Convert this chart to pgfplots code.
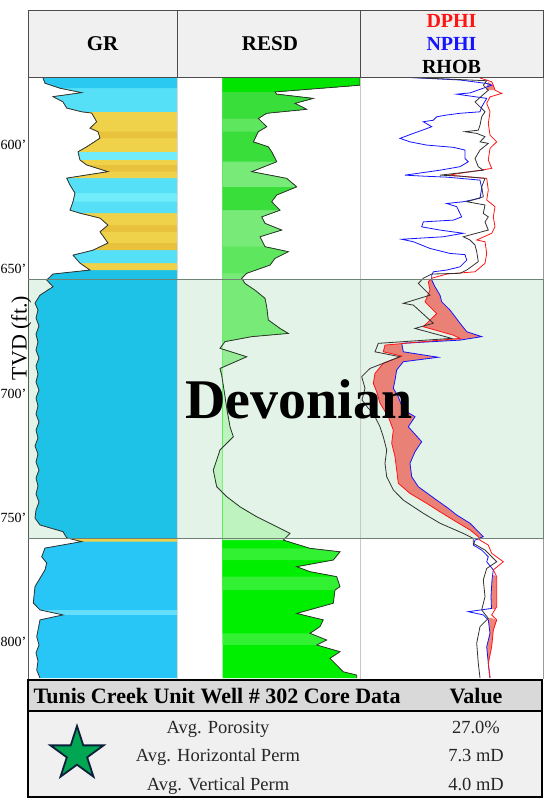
\documentclass[border=0pt]{standalone}
\usepackage{fontspec}
\setmainfont{Liberation Serif}
\usepackage{pgfplots}
\usepackage{pgfplotstable}
\pgfplotsset{compat=1.18}
\usetikzlibrary{shapes.geometric}
\newcommand{\fs}[1]{\fontsize{#1}{#1}\selectfont}
\definecolor{hdrgray}{RGB}{240,240,240}
\definecolor{devbg}{RGB}{227,243,232}
\definecolor{devborder}{RGB}{110,130,118}
\definecolor{tblhdr}{RGB}{217,217,217}
\definecolor{tblbody}{RGB}{240,240,240}
\definecolor{stargreen}{RGB}{0,166,81}
\definecolor{starnavy}{RGB}{11,31,58}
\definecolor{cA}{RGB}{41,201,242}
\definecolor{cB}{RGB}{85,224,248}
\definecolor{cL}{RGB}{112,236,251}
\definecolor{yA}{RGB}{240,210,74}
\definecolor{yB}{RGB}{233,194,60}
\definecolor{cD}{RGB}{31,194,231}
\definecolor{cE}{RGB}{39,198,246}
\definecolor{cE2}{RGB}{100,222,250}
\definecolor{gV}{RGB}{0,228,0}
\definecolor{g1}{RGB}{58,222,58}
\definecolor{g2}{RGB}{94,230,94}
\definecolor{g3}{RGB}{120,234,120}
\definecolor{g4}{RGB}{150,236,150}
\definecolor{g5}{RGB}{190,242,190}
\definecolor{gW}{RGB}{0,238,0}
\definecolor{gW2}{RGB}{50,240,50}
\definecolor{porfill}{RGB}{236,110,100}
\definecolor{nphic}{RGB}{20,20,255}
\definecolor{dphic}{RGB}{255,20,20}
\definecolor{curvec}{RGB}{50,50,50}

% area between GR curve and right edge, from the top down to depth #2
\newcommand{\grpoly}[2]{\addplot[fill=#1, draw=none, restrict y to domain=570:#2001] table[x=g,y=d]{\grdata} -- (axis cs:149,#2) -- (axis cs:149,572.6) -- cycle;}
% area between RESD curve and its base line, from the top down to depth #2
\newcommand{\rpoly}[2]{\addplot[fill=#1, draw=none, restrict y to domain=570:#2001] table[x=r,y=d]{\resdata} -- (axis cs:45.7,#2) -- (axis cs:45.7,572.6) -- cycle;}

\pgfplotstableread{
d g
572.6 14.7
575.1 17
577.1 32
578.9 53.7
580.5 25
582.6 35
585.1 38.7
586.6 53.7
587.1 63.7
590.6 68.7
593.2 62
594.6 70
597.2 72
600.7 58.7
602.7 50
606.0 52
608.0 58.7
610.7 80
613.3 38.7
616.1 42
619.3 47
622.8 45
626.2 42
627.4 52
629.4 72
632.2 80
634.9 72
639.4 80
642.3 65
644.3 45
647.5 52
650.3 62
651.9 25
654.3 18.7
657.0 25
660.4 12
663.6 7
666.4 10
669.6 8
672.8 11
676.1 8
679.3 10
682.5 8
685.7 11
688.9 8
692.2 10
695.4 8
698.6 11
701.8 8
705.0 10
708.2 8
711.5 11
714.7 8
717.9 10
721.1 7
724.3 10
727.6 8
730.8 11
734.0 8
737.2 10
740.4 8
743.7 11
746.9 8
750.1 7
752.9 12
755.6 35
758.1 38.7
759.6 53.7
762.2 17
765.7 13.7
768.2 18.7
771.0 17
777.7 7
784.3 5.3
787.1 12
789.1 35
791.1 12
797.9 8.7
801.2 11
804.4 8
807.6 10
811.3 8.7
814.5 12
}\grdata

\pgfplotstableread{
d r
572.6 183
575.9 183
578.6 98
579.5 99.7
581.2 136.3
583.2 118
585.6 129.7
587.2 89.7
589.3 81.3
592.6 89.7
594.6 81.3
598.7 76.3
600.7 91.3
602.7 94.7
606.7 99.7
610.7 74.7
613.4 109.7
616.8 119.7
620.1 99.7
622.8 94.7
626.2 103
628.9 84.7
631.5 88
634.2 104.7
636.9 83
640.9 88
642.9 111.3
645.6 98
648.3 93
651.6 69.7
653.6 64.7
655.7 68
658.4 78
661.7 88
665.1 89.7
670.4 91.3
673.8 103
675.8 111.3
677.1 74.7
679.1 48
681.8 43
685.2 69.7
689.9 43
692.6 44.7
698.6 47
706.6 50
713.4 53
717.4 56.3
722.7 43
726.8 39.7
730.8 36.3
737.5 39.7
741.5 49.7
745.6 63
749.6 79.7
753.6 99.7
756.3 113
759.0 106.3
762.3 133
763.7 163
767.0 156.3
769.7 119.7
771.7 133
773.7 159.7
777.7 163
779.1 158
784.4 156.3
788.5 119.7
791.1 146.3
793.8 143
796.5 133
799.2 149.7
801.2 139.7
803.9 163
806.6 153
809.3 159.7
812.0 166.3
813.3 179.7
814.5 179.7
}\resdata

\pgfplotstableread{
d n
572.6 40
573.8 100
575.2 126.7
575.9 131.7
579.0 110
579.5 96.7
581.2 126.7
584.6 121.7
586.6 120
587.2 100
587.9 86.7
588.6 76.7
590.0 73.3
590.6 63.3
592.6 71.7
594.6 58.3
595.3 53.3
597.3 40
598.7 50
600.0 66.7
600.9 93.3
602.0 105
605.4 105
606.7 108.3
608.7 100
610.1 80
612.1 45
612.5 63.3
612.9 86.7
614.1 120
617.4 121.7
621.4 120
622.8 103.3
623.5 86.7
624.8 96.7
628.9 101.7
630.2 93.3
630.9 63.3
632.9 61.7
634.2 80
635.5 103.3
636.9 83.3
637.9 41.7
638.9 53.3
641.6 70
643.6 90
644.1 105
646.3 106.7
649.0 100
650.3 86.7
651.0 73.3
652.3 71.7
654.3 71.7
657.0 75
660.4 80
663.1 81.7
666.4 90
671.7 100
675.1 106.7
677.1 121.7
678.5 100
679.8 41.7
683.2 43.3
685.4 78.3
687.2 43.3
690.5 36.7
694.6 35
697.9 33.3
701.3 38.3
706.6 43.3
709.3 55
713.4 48.3
719.4 61.7
723.4 55
728.1 50
733.5 51.7
737.5 58.3
742.9 76.7
746.2 88.3
748.9 96.7
752.2 110
755.6 118.3
757.6 123.3
759.0 115
761.0 113.3
763.0 121.7
765.7 128.3
767.7 126.7
771.0 133.3
775.0 132
781.8 131
786.5 131.5
787.8 108.3
789.1 123.3
791.1 128.3
796.5 130
801.9 126.7
808.6 128.3
814.5 130
}\nphidata

\pgfplotstableread{
d p
573.0 120
574.5 131.7
575.9 133.3
577.9 135
579.2 141.7
580.6 130
583.2 126.7
586.6 130
591.3 128.3
596.0 130
598.7 136.7
601.3 130
606.0 128.3
609.4 131.7
612.1 88.3
613.4 126.7
618.1 128.3
622.1 126.7
624.8 135
628.9 133.3
632.9 135
635.5 131.7
638.2 116.7
638.9 125
643.6 126.7
647.6 125
651.0 115
651.9 86.7
653.6 71.7
655.1 68.3
658.4 70
663.1 65
667.8 76.7
673.1 63.3
676.5 93.3
677.8 100
680.5 25
683.2 23.3
684.9 41.7
687.8 23.3
691.9 15
695.9 13.3
699.3 16.7
703.9 20
709.3 28.3
714.7 33.3
720.0 31.7
725.4 35
730.8 36.7
736.1 38.3
740.2 50
744.2 66.7
747.6 80
750.9 93.3
754.9 110
757.6 118.3
759.0 120
761.0 128.3
764.3 131.7
767.7 143.3
771.0 133.3
773.7 136.7
785.8 136.7
789.1 131.7
791.1 136.7
795.2 133.3
801.9 131.7
808.6 128.3
814.5 130
}\dphidata

\pgfplotstableread{
d b
572.6 40
574.1 126.7
575.9 123.3
577.9 128.3
582.6 115
584.6 120
586.6 125
588.6 121.7
592.0 120
594.0 118.3
594.6 105
595.3 116.7
596.6 125
598.7 120
599.3 128.3
602.0 120
605.4 115
608.7 118.3
610.1 123.3
612.1 80
612.5 100
613.4 125
616.8 121.7
620.8 123.3
622.8 106.7
624.1 125
627.5 123.3
628.9 128.3
630.9 125
634.2 128.3
636.9 103.3
638.2 110
640.2 115
642.9 116.7
646.9 118.3
650.3 106.7
651.6 100
651.9 71.7
653.6 63.3
655.7 58.3
660.4 70
663.7 43.3
664.4 53.3
671.7 73.3
673.8 55
677.8 91.7
679.8 18.3
683.2 15
685.2 40
689.9 10
693.2 1.7
697.9 5
702.6 2
705.8 8
707.9 13.3
713.4 20
717.4 23.3
722.7 26.7
728.1 25
733.5 26.7
738.8 33.3
742.9 43.3
748.2 63.3
752.2 80
756.3 103.3
758.3 113.3
760.3 113.3
763.0 125
767.7 136.7
770.4 126.7
775.0 123.3
781.8 125
787.1 121.7
790.5 128.3
793.8 120
800.5 116.7
808.6 118.3
814.5 120
}\rhobdata

% DPHI-NPHI crossover area (DPHI going down, then NPHI coming back up)
\pgfplotstableread{
d x
653.6 71.7
655.1 68.3
658.4 70
663.1 65
667.8 76.7
673.1 63.3
676.5 93.3
677.8 100
680.5 25
683.2 23.3
684.9 41.7
687.8 23.3
691.9 15
695.9 13.3
699.3 16.7
703.9 20
709.3 28.3
714.7 33.3
720.0 31.7
725.4 35
730.8 36.7
736.1 38.3
740.2 50
744.2 66.7
747.6 80
750.9 93.3
754.9 110
757.6 118.3
759.0 120
759.0 115
757.6 123.3
755.6 118.3
752.2 110
748.9 96.7
746.2 88.3
742.9 76.7
737.5 58.3
733.5 51.7
728.1 50
723.4 55
719.4 61.7
713.4 48.3
709.3 55
706.6 43.3
701.3 38.3
697.9 33.3
694.6 35
690.5 36.7
687.2 43.3
685.4 78.3
683.2 43.3
679.8 41.7
678.5 100
677.1 121.7
675.1 106.7
671.7 100
666.4 90
663.1 81.7
660.4 80
657.0 75
654.3 71.7
}\crossB

\pgfplotsset{
  track/.style={scale only axis, height=601pt, y dir=reverse,
    ymin=572.6, ymax=814.5, anchor=north west,
    xtick=\empty, ytick=\empty, axis line style={draw=none},
    major tick length=0pt, clip=true},
}

\begin{document}
\begin{tikzpicture}[x=1pt,y=1pt]

% Devonian background
\fill[devbg] (28,-279) rectangle (543,-538);

% ---------------- GR track
\begin{axis}[track, at={(28pt,-77pt)}, width=149pt, xmin=0, xmax=149,
  ytick={600,650,700,750,800},
  yticklabels={600\textquoteright,650\textquoteright,700\textquoteright,750\textquoteright,800\textquoteright},
  yticklabel style={font=\fs{14}, inner sep=0pt, xshift=-1.5pt}]
\grpoly{cE}{814.5}
\grpoly{cE2}{789.1}
\grpoly{cE}{787.1}
\grpoly{yA}{759.6}
\grpoly{cD}{758.1}
\grpoly{yA}{650.3}
\grpoly{cB}{647.5}
\grpoly{yB}{642.3}
\grpoly{yA}{639.4}
\grpoly{yB}{634.9}
\grpoly{yA}{632.2}
\grpoly{cB}{627.4}
\grpoly{cL}{622.8}
\grpoly{cB}{619.3}
\grpoly{yA}{613.3}
\grpoly{yB}{610.7}
\grpoly{yA}{608.0}
\grpoly{cL}{606.0}
\grpoly{yA}{602.7}
\grpoly{yB}{597.2}
\grpoly{yA}{594.6}
\grpoly{cB}{586.6}
\grpoly{cA}{577.1}
\addplot[line width=0.8pt, color=curvec] table[x=g,y=d]{\grdata};
\end{axis}

% ---------------- RESD track
\begin{axis}[track, at={(177pt,-77pt)}, width=183pt, xmin=0, xmax=183]
\rpoly{gW}{814.5}
\rpoly{gW2}{801.2}
\rpoly{gW}{796.5}
\rpoly{gW2}{779.1}
\rpoly{gW}{773.7}
\rpoly{gW2}{767.0}
\rpoly{gW}{762.3}
\rpoly{g5}{759.0}
\rpoly{g4}{698.6}
\rpoly{g3}{679.1}
\rpoly{g2}{651.6}
\rpoly{g3}{640.9}
\rpoly{g1}{626.2}
\rpoly{g3}{616.8}
\rpoly{g1}{606.7}
\rpoly{g2}{594.6}
\rpoly{g1}{589.3}
\rpoly{gV}{578.6}
\addplot[line width=0.8pt, color=curvec] table[x=r,y=d]{\resdata};
\end{axis}

% ---------------- Porosity / density track
\begin{axis}[track, at={(360pt,-77pt)}, width=183pt, xmin=0, xmax=183]
\addplot[fill=porfill, fill opacity=0.85, draw=none] table[x=x,y=d]{\crossB} -- cycle;
\addplot[fill=porfill, fill opacity=0.85, draw=none] table[x=x,y=d]{
d x
574.6 128
575.9 133.3
577.9 135
577.9 126
} -- cycle;
\addplot[fill=porfill, fill opacity=0.85, draw=none] table[x=x,y=d]{
d x
773.7 136.7
785.8 136.7
787.0 134.5
786.5 131.5
781.8 131
775.0 132
773.0 133.5
} -- cycle;
\addplot[fill=porfill, fill opacity=0.85, draw=none] table[x=x,y=d]{
d x
790.2 130
791.1 136.7
795.2 133.3
801.9 131.7
808.6 128.3
801.9 126.7
796.5 130
791.1 128.3
} -- cycle;
\addplot[line width=0.8pt, color=nphic] table[x=n,y=d]{\nphidata};
\addplot[line width=0.8pt, color=dphic] table[x=p,y=d]{\dphidata};
\addplot[line width=0.8pt, color=curvec] table[x=b,y=d]{\rhobdata};
\end{axis}

% track frame lines
\draw[black!65, line width=0.8] (28,-77) -- (28,-679);
\draw[black!15, line width=0.8] (177,-77) -- (177,-679);
\draw[black!22, line width=0.8] (360,-77) -- (360,-679);
\draw[black!40, line width=0.8] (543,-77) -- (543,-679);
% Devonian frame
\draw[devborder, line width=0.9] (28,-279) -- (543,-279) -- (543,-538) -- (28,-538);

% Devonian label
\node[text=black, font=\fs{56}\bfseries, anchor=base, inner sep=0] at (299,-418) {Devonian};

% TVD label
\node[rotate=90, anchor=base, font=\fs{22}, inner sep=0] at (26.5,-338) {TVD (ft.)};

% Header
\fill[hdrgray] (28,-10) rectangle (543,-77);
\draw[black!70, line width=0.8] (28,-10) rectangle (543,-77);
\draw[black!70, line width=0.8] (177,-10) -- (177,-77);
\draw[black!70, line width=0.8] (360,-10) -- (360,-77);
\node[anchor=base, font=\fs{21}\bfseries, inner sep=0] at (102.5,-50.5) {GR};
\node[anchor=base, font=\fs{21}\bfseries, inner sep=0] at (270,-50.5) {RESD};
\node[anchor=base, font=\fs{20}\bfseries, inner sep=0, text=dphic] at (451.5,-27.5) {DPHI};
\node[anchor=base, font=\fs{20}\bfseries, inner sep=0, text=nphic] at (451.5,-50.5) {NPHI};
\node[anchor=base, font=\fs{20}\bfseries, inner sep=0, text=black] at (451.5,-73.5) {RHOB};

% Core data table
\fill[tblhdr] (28,-680) rectangle (542,-711);
\fill[tblbody] (28,-711) rectangle (542,-797);
\draw[black, line width=2.5] (28,-680) rectangle (542,-797);
\draw[black, line width=2.5] (28,-711) -- (542,-711);
\node[anchor=base west, font=\fs{22}\bfseries, inner sep=0] at (33.5,-703.5) {Tunis Creek Unit Well \# 302 Core Data};
\node[anchor=base, font=\fs{22}\bfseries, inner sep=0] at (476,-703.5) {Value};
\node[anchor=base, font=\fs{18.5}, inner sep=0, text=black!85] at (218,-733) {Avg. Porosity};
\node[anchor=base, font=\fs{18.5}, inner sep=0, text=black!85] at (218,-761.5) {Avg. Horizontal Perm};
\node[anchor=base, font=\fs{18.5}, inner sep=0, text=black!85] at (218,-790) {Avg. Vertical Perm};
\node[anchor=base, font=\fs{18.5}, inner sep=0, text=black!85] at (476,-733) {27.0\%};
\node[anchor=base, font=\fs{18.5}, inner sep=0, text=black!85] at (476,-761.5) {7.3 mD};
\node[anchor=base, font=\fs{18.5}, inner sep=0, text=black!85] at (476,-790) {4.0 mD};
\node[star, star points=5, star point ratio=2.618, minimum size=56pt, inner sep=0, fill=stargreen, draw=starnavy, line width=1.8pt] at (77,-754) {};

\pgfresetboundingbox
\useasboundingbox (0,0) rectangle (547,-803);
\end{tikzpicture}
\end{document}
